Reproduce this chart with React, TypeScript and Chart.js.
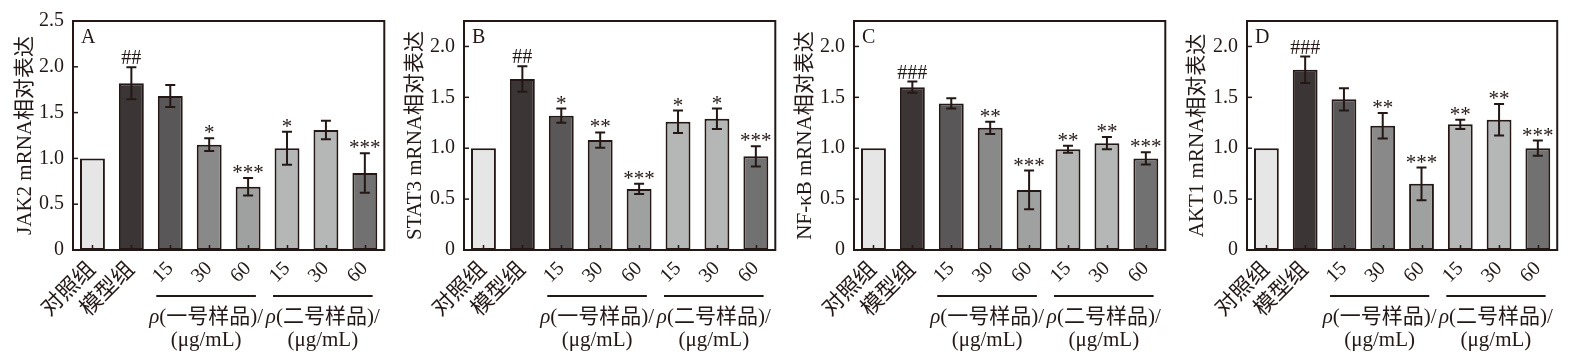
import React, { useEffect, useRef } from 'react';
import { Chart, registerables } from 'chart.js';

Chart.register(...registerables);

// ---------- data ----------
const categories = ['对照组', '模型组', '15', '30', '60', '15', '30', '60'];
const barColors = ['#e6e6e6', '#3b3535', '#595757', '#898989', '#9fa0a0', '#b5b6b6', '#b5b6b6', '#727171'];
const groupNames = ['一号样品', '二号样品'];
const groupUnit = '(μg/mL)';
const groupStart = [2, 5];
const groupEnd = [4, 7];

const jak2Means = [1.0, 1.82, 1.68, 1.15, 0.69, 1.11, 1.31, 0.84];
const jak2Errs = [0, 0.175, 0.12, 0.07, 0.095, 0.18, 0.1, 0.215];
const jak2Marks = ['', '##', '', '*', '***', '*', '', '***'];

const stat3Means = [1.0, 1.68, 1.32, 1.08, 0.6, 1.26, 1.29, 0.92];
const stat3Errs = [0, 0.125, 0.07, 0.075, 0.05, 0.11, 0.1, 0.1];
const stat3Marks = ['', '##', '*', '**', '***', '*', '*', '***'];

const nfkbMeans = [1.0, 1.6, 1.44, 1.2, 0.59, 0.99, 1.05, 0.9];
const nfkbErrs = [0, 0.055, 0.05, 0.06, 0.19, 0.035, 0.06, 0.06];
const nfkbMarks = ['', '###', '', '**', '***', '**', '**', '***'];

const akt1Means = [1.0, 1.77, 1.48, 1.22, 0.65, 1.235, 1.28, 1.0];
const akt1Errs = [0, 0.13, 0.11, 0.125, 0.16, 0.045, 0.155, 0.075];
const akt1Marks = ['', '###', '', '**', '***', '**', '**', '***'];

const panelLetters = ['A', 'B', 'C', 'D'];
const yTitles = ['JAK2 mRNA相对表达', 'STAT3 mRNA相对表达', 'NF-κB mRNA相对表达', 'AKT1 mRNA相对表达'];
const yMaxes = [2.5, 2.25, 2.25, 2.25];

// ---------- styles ----------
const SERIF = "'Liberation Serif', 'Times New Roman', 'Noto Sans CJK SC', serif";
const INK = '#231815';

const layouts = [
  { left: 0, width: 389, yw: 73, top: 16, titlePad: 13 },
  { left: 390, width: 390, yw: 74, top: 16, titlePad: 13 },
  { left: 780, width: 390, yw: 74, top: 17, titlePad: 13 },
  { left: 1170, width: 392, yw: 77, top: 17, titlePad: 15 },
];
const PLOT_BOTTOM = 250;

const overlayPlugin = {
  id: 'overlay',
  afterDatasetsDraw(chart: any, _args: any, opts: any) {
    const { ctx, chartArea: a, scales } = chart;
    const x = scales.x;
    const y = scales.y;
    const meta = chart.getDatasetMeta(0);
    const means: number[] = opts.means;
    const errs: number[] = opts.errs;
    const marks: string[] = opts.marks;
    ctx.save();
    ctx.strokeStyle = INK;
    ctx.fillStyle = INK;
    ctx.lineCap = 'butt';

    // x ticks (inward)
    categories.forEach((_c, i) => {
      const px = Math.round(x.getPixelForValue(i)) + 0.5;
      ctx.lineWidth = 1.5;
      ctx.beginPath();
      ctx.moveTo(px, a.bottom);
      ctx.lineTo(px, a.bottom - 5);
      ctx.stroke();
    });
    // y ticks (inward)
    y.ticks.forEach((t: any) => {
      const py = y.getPixelForValue(t.value);
      ctx.lineWidth = 1.5;
      ctx.beginPath();
      ctx.moveTo(a.left, py);
      ctx.lineTo(a.left + 5, py);
      ctx.stroke();
    });

    // error bars + marks
    means.forEach((m, i) => {
      const bar = meta.data[i];
      const cx = bar.x;
      const e = errs[i];
      let topY = y.getPixelForValue(m);
      ctx.lineWidth = 2;
      if (e > 0) {
        const y1 = y.getPixelForValue(m + e);
        const y2 = y.getPixelForValue(m - e);
        ctx.beginPath();
        ctx.moveTo(cx, y1);
        ctx.lineTo(cx, y2);
        ctx.moveTo(cx - 5, y1);
        ctx.lineTo(cx + 5, y1);
        ctx.moveTo(cx - 5, y2);
        ctx.lineTo(cx + 5, y2);
        ctx.stroke();
        topY = y1;
      }
      const mark = marks[i];
      if (mark) {
        const isStar = mark[0] === '*';
        ctx.font = isStar ? `21px ${SERIF}` : `20px ${SERIF}`;
        ctx.textAlign = 'center';
        ctx.textBaseline = 'alphabetic';
        const mt = ctx.measureText(mark);
        const gap = isStar ? 5 : 3;
        const base = topY - gap - mt.actualBoundingBoxDescent;
        ctx.fillStyle = INK;
        ctx.fillText(mark, cx, base);
      }
    });

    // frame
    ctx.lineWidth = 2;
    ctx.strokeRect(a.left, a.top, a.right - a.left, a.bottom - a.top);

    // panel letter
    ctx.font = `20px ${SERIF}`;
    ctx.textAlign = 'left';
    ctx.textBaseline = 'alphabetic';
    ctx.fillText(opts.letter, a.left + 8, a.top + 22);

    // group labels
    const cw = x.getPixelForValue(1) - x.getPixelForValue(0);
    groupNames.forEach((name, g) => {
      const x1 = x.getPixelForValue(groupStart[g]) - 0.36 * cw;
      const x2 = x.getPixelForValue(groupEnd[g]) + 0.2 * cw;
      const ly = a.bottom + 46;
      ctx.lineWidth = 2;
      ctx.beginPath();
      ctx.moveTo(x1, ly);
      ctx.lineTo(x2, ly);
      ctx.stroke();
      const mid = (x1 + x2) / 2;
      const italic = `italic 21px ${SERIF}`;
      const normal = `21px ${SERIF}`;
      ctx.font = italic;
      const wRho = ctx.measureText('ρ').width;
      ctx.font = normal;
      const rest = '(' + name + ')/';
      const wRest = ctx.measureText(rest).width;
      let sx = mid - (wRho + wRest) / 2;
      const ty = a.bottom + 67;
      ctx.textAlign = 'left';
      ctx.textBaseline = 'middle';
      ctx.font = italic;
      ctx.fillText('ρ', sx, ty);
      sx += wRho;
      ctx.font = normal;
      ctx.fillText(rest, sx, ty);
      ctx.textAlign = 'center';
      ctx.fillText(groupUnit, mid, a.bottom + 90);
    });
    ctx.restore();
  },
};

function Panel({ idx, means, errs, marks }: { idx: number; means: number[]; errs: number[]; marks: string[] }) {
  const ref = useRef<HTMLCanvasElement | null>(null);
  const lay = layouts[idx];
  useEffect(() => {
    if (!ref.current) return;
    const chart = new Chart(ref.current, {
      type: 'bar',
      data: {
        labels: categories,
        datasets: [
          {
            data: means,
            backgroundColor: barColors,
            borderColor: INK,
            borderWidth: 2,
            borderSkipped: false,
            categoryPercentage: 1,
            barPercentage: 0.64,
          },
        ],
      },
      options: {
        animation: false,
        responsive: true,
        maintainAspectRatio: false,
        layout: { padding: { top: lay.top, right: 3, left: 0, bottom: 0 } },
        plugins: {
          legend: { display: false },
          tooltip: { enabled: false },
          overlay: { means, errs, marks, letter: panelLetters[idx] },
        } as any,
        scales: {
          x: {
            type: 'category',
            grid: { display: false, drawTicks: false },
            border: { display: false },
            ticks: {
              color: INK,
              font: (c: any) => ({ family: SERIF, size: c.index < 2 ? 22 : 20 }),
              maxRotation: 45,
              minRotation: 45,
              padding: 7,
              autoSkip: false,
            },
            afterFit: (s: any) => {
              s.height = 360 - PLOT_BOTTOM;
            },
          },
          y: {
            min: 0,
            max: yMaxes[idx],
            grid: { display: false, drawTicks: false },
            border: { display: false },
            ticks: {
              stepSize: 0.5,
              includeBounds: false,
              color: INK,
              padding: 9,
              font: { family: SERIF, size: 20 },
              callback: (v: any) => (Number(v) === 0 ? '0' : Number(v).toFixed(1)),
            },
            title: {
              display: true,
              text: yTitles[idx],
              color: INK,
              font: { family: SERIF, size: 21 },
              padding: { top: lay.titlePad, bottom: 0 },
            },
            afterFit: (s: any) => {
              s.width = lay.yw;
            },
          },
        },
      },
      plugins: [overlayPlugin],
    } as any);
    return () => chart.destroy();
  }, []);
  return (
    <div style={{ position: 'absolute', left: lay.left, top: 0, width: lay.width, height: 360 }}>
      <canvas ref={ref} />
    </div>
  );
}

export default function App() {
  return (
    <div style={{ position: 'absolute', left: 0, top: 0, width: 1575, height: 360, background: '#fff', overflow: 'hidden' }}>
      <Panel idx={0} means={jak2Means} errs={jak2Errs} marks={jak2Marks} />
      <Panel idx={1} means={stat3Means} errs={stat3Errs} marks={stat3Marks} />
      <Panel idx={2} means={nfkbMeans} errs={nfkbErrs} marks={nfkbMarks} />
      <Panel idx={3} means={akt1Means} errs={akt1Errs} marks={akt1Marks} />
    </div>
  );
}
